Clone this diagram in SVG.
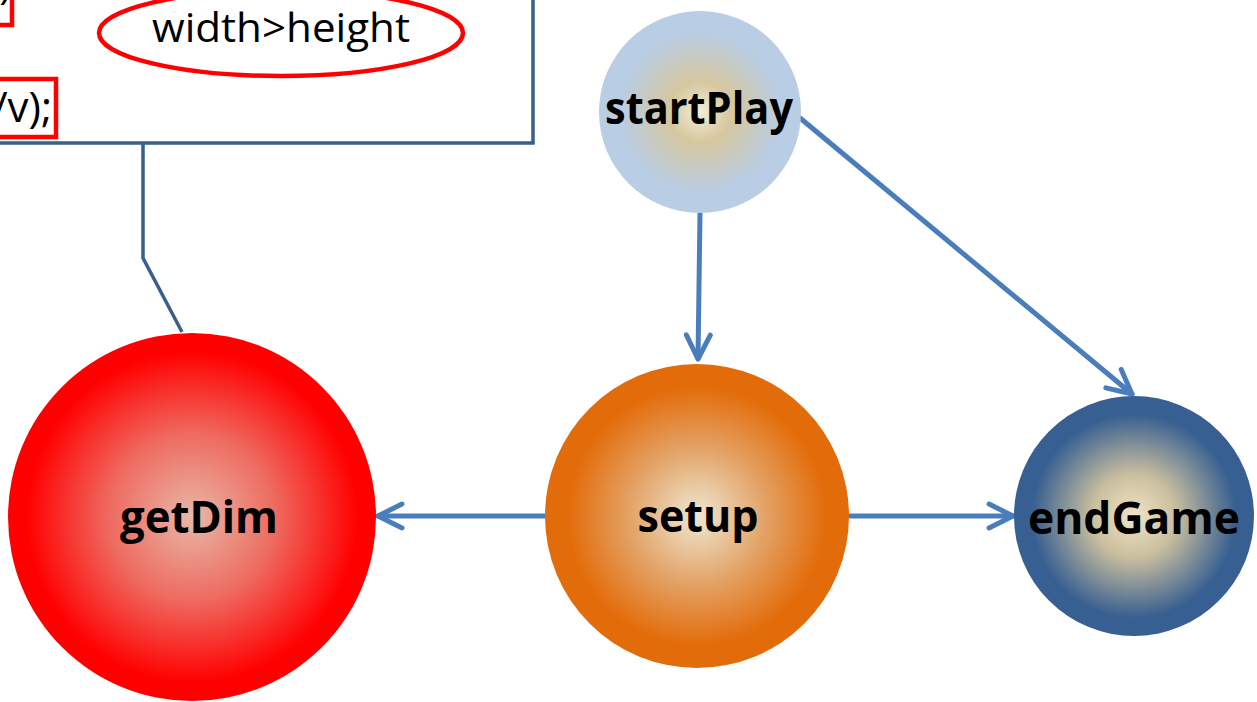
<svg xmlns="http://www.w3.org/2000/svg" width="1257" height="702" viewBox="0 0 1257 702">
  <style>
    .lbl { font-family: "Open Sans", "Liberation Sans", sans-serif; font-weight: bold; fill: #000; text-anchor: middle; }
    .code { font-family: "Open Sans", "Liberation Sans", sans-serif; fill: #000; }
    .flow { stroke: #4A7EBB; stroke-width: 5; fill: none; stroke-linecap: round; }
    .callout { stroke: #3A5F8B; stroke-width: 3.5; fill: none; }
    .mark { stroke: #FF0000; stroke-width: 4.5; fill: none; }
  </style>
  <defs>
    <radialGradient id="gStart" cx="50%" cy="50%" r="50%">
      <stop offset="0" stop-color="#F3EDD9"/>
      <stop offset="0.3" stop-color="#D6C79E"/>
      <stop offset="0.8" stop-color="#B9CDE5"/>
      <stop offset="1" stop-color="#B9CDE5"/>
    </radialGradient>
    <radialGradient id="gSetup" cx="50%" cy="50%" r="50%">
      <stop offset="0" stop-color="#EEE8D2"/>
      <stop offset="0.45" stop-color="#E3A266"/>
      <stop offset="0.85" stop-color="#E36C0A"/>
      <stop offset="1" stop-color="#E36C0A"/>
    </radialGradient>
    <radialGradient id="gDim" cx="50%" cy="50%" r="50%">
      <stop offset="0" stop-color="#E8B8A8"/>
      <stop offset="0.45" stop-color="#EE6B60"/>
      <stop offset="0.9" stop-color="#FF0000"/>
      <stop offset="1" stop-color="#FF0000"/>
    </radialGradient>
    <radialGradient id="gEnd" cx="50%" cy="50%" r="50%">
      <stop offset="0" stop-color="#F0E4C4"/>
      <stop offset="0.35" stop-color="#C9BE9E"/>
      <stop offset="0.85" stop-color="#375F91"/>
      <stop offset="1" stop-color="#375F91"/>
    </radialGradient>
    <marker id="chev" markerUnits="userSpaceOnUse" markerWidth="40" markerHeight="40" viewBox="-30 -20 40 40" refX="0" refY="0" orient="auto">
      <path d="M-24,-12 L0,0 L-24,12" stroke="#4A7EBB" stroke-width="5" fill="none" stroke-linecap="round" stroke-linejoin="round"/>
    </marker>
  </defs>

  <rect width="1257" height="702" fill="#FFFFFF"/>

  <!-- code callout box -->
  <g id="callout">
    <rect x="-10" y="-10" width="543" height="153" fill="#FFFFFF" stroke="#3A5F8B" stroke-width="3.5"/>
    <rect class="mark" x="-20" y="-20" width="32" height="45"/>
    <text class="code" x="11" y="-1" font-size="40" text-anchor="end">)</text>
    <ellipse class="mark" cx="281" cy="33" rx="182" ry="43"/>
    <text class="code" x="281" y="42" font-size="41" text-anchor="middle" textLength="258" lengthAdjust="spacingAndGlyphs">width&gt;height</text>
    <rect class="mark" x="-20" y="79" width="76" height="58"/>
    <text class="code" x="52" y="122" font-size="42" text-anchor="end">/v);</text>
  </g>

  <!-- connectors -->
  <g id="connectors">
    <polyline class="callout" points="143,143 143,258 182,332"/>
    <line class="flow" x1="700" y1="213" x2="698" y2="359" marker-end="url(#chev)"/>
    <line class="flow" x1="800" y1="118" x2="1132" y2="394" marker-end="url(#chev)"/>
    <line class="flow" x1="545" y1="516" x2="378" y2="516" marker-end="url(#chev)"/>
    <line class="flow" x1="850" y1="516" x2="1013" y2="516" marker-end="url(#chev)"/>
  </g>

  <g id="startPlay">
    <circle cx="700" cy="112" r="101" fill="url(#gStart)"/>
    <text class="lbl" x="699" y="124" font-size="44" textLength="188" lengthAdjust="spacingAndGlyphs">startPlay</text>
  </g>

  <g id="setup">
    <circle cx="697" cy="516" r="152" fill="url(#gSetup)"/>
    <text class="lbl" x="698" y="532" font-size="44" textLength="121" lengthAdjust="spacingAndGlyphs">setup</text>
  </g>

  <g id="getDim">
    <circle cx="192" cy="517" r="184" fill="url(#gDim)"/>
    <text class="lbl" x="199" y="533" font-size="44" textLength="158" lengthAdjust="spacingAndGlyphs">getDim</text>
  </g>

  <g id="endGame">
    <circle cx="1134" cy="516" r="120" fill="url(#gEnd)"/>
    <text class="lbl" x="1134" y="534" font-size="44" textLength="212" lengthAdjust="spacingAndGlyphs">endGame</text>
  </g>
</svg>
